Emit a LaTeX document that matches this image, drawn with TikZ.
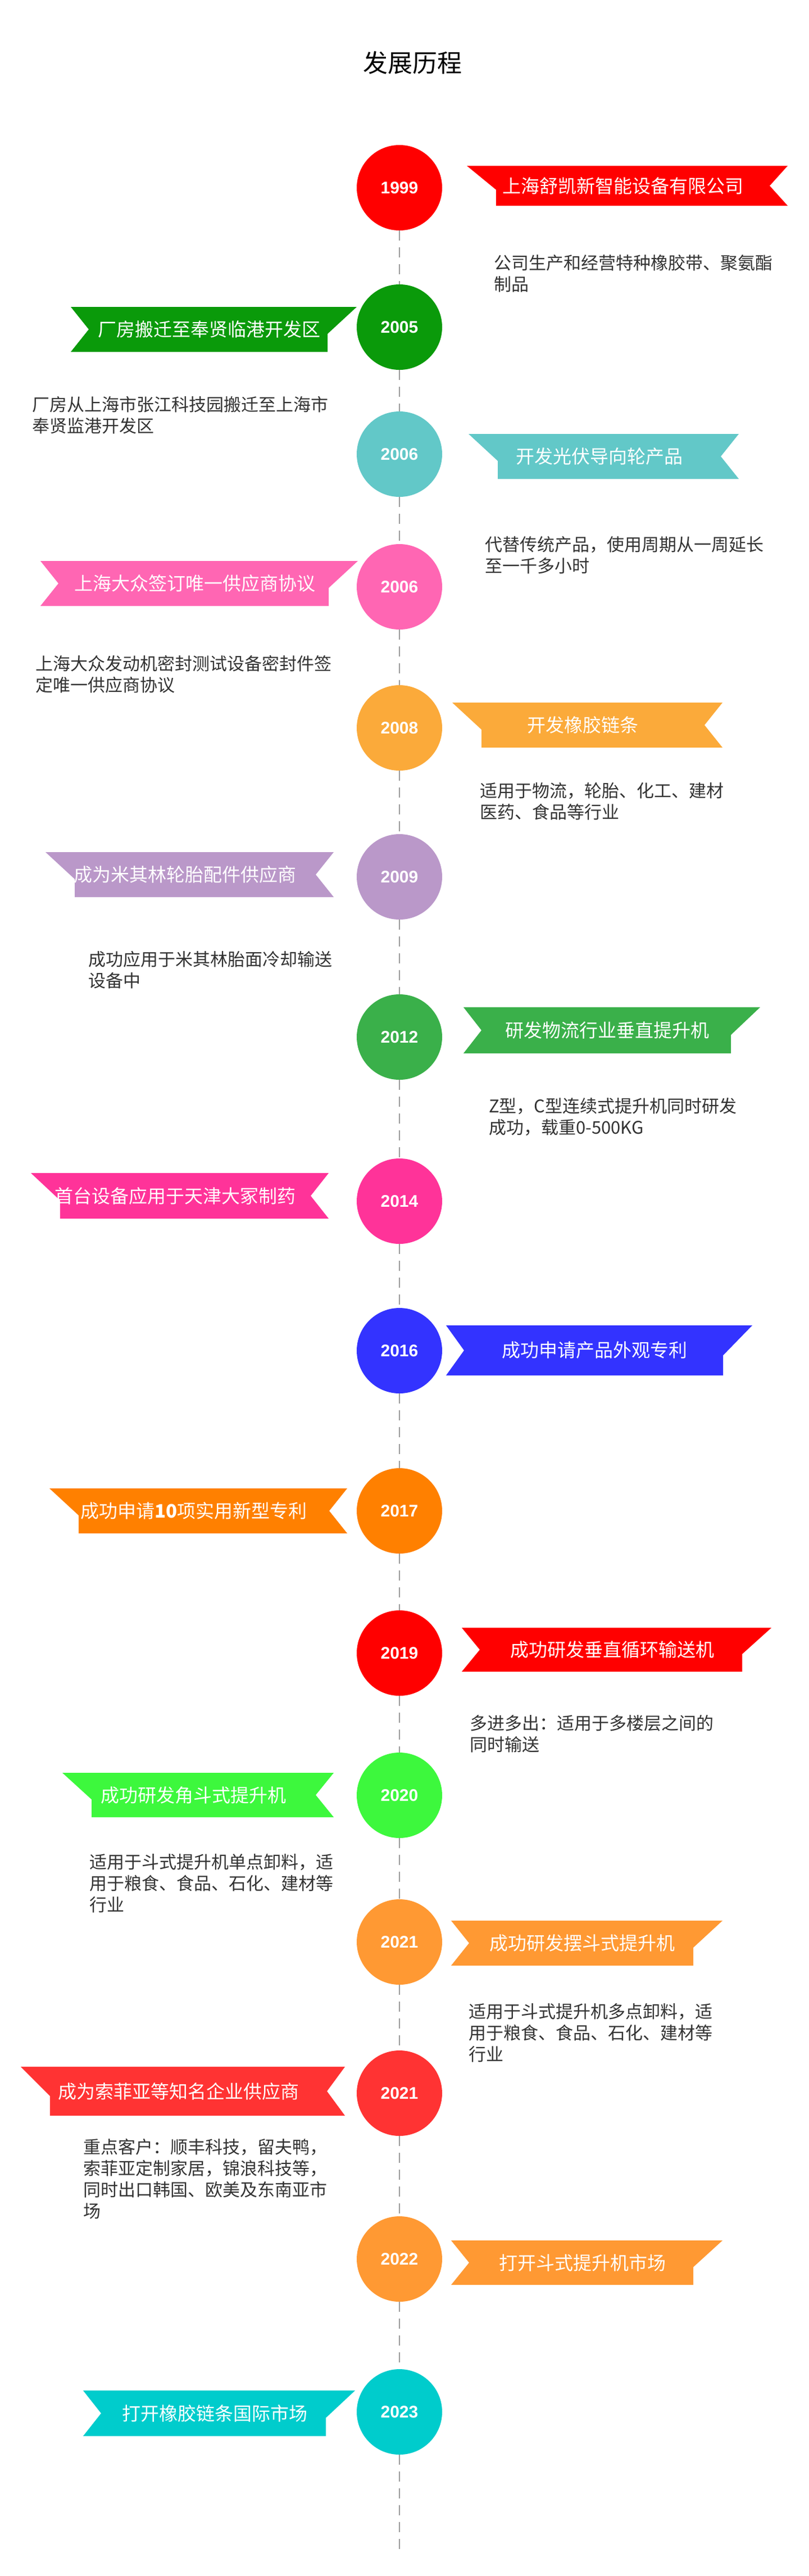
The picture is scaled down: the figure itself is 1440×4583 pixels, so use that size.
\documentclass[tikz,border=0pt]{standalone}
\usepackage{fontspec}
\setmainfont{Noto Sans CJK SC}
\newfontfamily\yearfont{Liberation Sans}
\usetikzlibrary{calc}
\definecolor{k1999}{HTML}{FF0000}
\definecolor{k2005}{HTML}{0A9A0A}
\definecolor{k2006a}{HTML}{62C8C8}
\definecolor{k2006b}{HTML}{FF66B3}
\definecolor{k2008}{HTML}{FBAA3A}
\definecolor{k2009}{HTML}{BA98C9}
\definecolor{k2012}{HTML}{3AB04A}
\definecolor{k2014}{HTML}{FF3399}
\definecolor{k2016}{HTML}{3333FF}
\definecolor{k2017}{HTML}{FF8000}
\definecolor{k2019}{HTML}{FF0000}
\definecolor{k2020}{HTML}{3DF83D}
\definecolor{k2021a}{HTML}{FF9933}
\definecolor{k2021b}{HTML}{FF3333}
\definecolor{k2022}{HTML}{FF9933}
\definecolor{k2023}{HTML}{00CCCC}
\definecolor{desc}{HTML}{333333}
\definecolor{dashc}{HTML}{999999}
\tikzset{
  yearc/.style={circle,minimum size=152pt,inner sep=0pt,text=white,font=\yearfont\bfseries\fontsize{30}{30}\selectfont},
  bantext/.style={text=white,inner sep=0pt,font=\fontsize{33}{33}\selectfont},
  desctext/.style={text=desc,inner sep=0pt,align=left,anchor=north west,font=\fontsize{31}{38}\selectfont},
  dashline/.style={draw=dashc,line width=2pt,dash pattern=on 18pt off 12pt},
  titletext/.style={inner sep=0pt,font=\fontsize{44}{44}\selectfont}
}
% \ban{xl}{xr}{yt}{yb}{leftkind}{rightkind}{color}{name}{text}
\newcommand\ban[9]{%
  \pgfmathsetmacro\hh{#4-#3}%
  \pgfmathsetmacro\ym{(#3+#4)/2}%
  \pgfmathsetmacro\yf{#3+0.6*\hh}%
  \def\pth{(#1,#3) -- (#2,#3)}%
  \if#6n\edef\pth{\pth -- (#2-32,\ym) -- (#2,#4)}\else\edef\pth{\pth -- (#2-52,\yf) -- (#2-52,#4)}\fi
  \if#5n\edef\pth{\pth -- (#1,#4) -- (#1+32,\ym) -- cycle}\else\edef\pth{\pth -- (#1+52,#4) -- (#1+52,\yf) -- cycle}\fi
  \fill[#7] \pth;
  \node[bantext] (#8) at ({(#1+#2)/2-8},\ym) {#9};
}
\begin{document}
\begin{tikzpicture}[x=1pt,y=-1pt]
\useasboundingbox (0,0) rectangle (1440,4583);
\fill[white] (0,0) rectangle (1440,4583);
\node[titletext] (title) at (734,112) {发展历程};
% circles
\node[yearc,fill=k1999] (c1) at (711,334) {1999};
\node[yearc,fill=k2005] (c2) at (711,582) {2005};
\node[yearc,fill=k2006a] (c3) at (711,808) {2006};
\node[yearc,fill=k2006b] (c4) at (711,1044) {2006};
\node[yearc,fill=k2008] (c5) at (711,1295) {2008};
\node[yearc,fill=k2009] (c6) at (711,1560) {2009};
\node[yearc,fill=k2012] (c7) at (711,1845) {2012};
\node[yearc,fill=k2014] (c8) at (711,2137) {2014};
\node[yearc,fill=k2016] (c9) at (711,2403) {2016};
\node[yearc,fill=k2017] (c10) at (711,2688) {2017};
\node[yearc,fill=k2019] (c11) at (711,2941) {2019};
\node[yearc,fill=k2020] (c12) at (711,3194) {2020};
\node[yearc,fill=k2021a] (c13) at (711,3455) {2021};
\node[yearc,fill=k2021b] (c14) at (711,3724) {2021};
\node[yearc,fill=k2022] (c15) at (711,4019) {2022};
\node[yearc,fill=k2023] (c16) at (711,4291) {2023};
\coordinate (lineend) at (711,4541);
\foreach \a/\b in {c1/c2,c2/c3,c3/c4,c4/c5,c5/c6,c6/c7,c7/c8,c8/c9,c9/c10,c10/c11,c11/c12,c12/c13,c13/c14,c14/c15,c15/c16}
  \draw[dashline] (\a.south) -- (\b.north);
\draw[dashline] (c16.south) -- (lineend);
% banners
\ban{831}{1402}{295}{366}{f}{n}{k1999}{b1}{上海舒凯新智能设备有限公司}
\ban{126}{635}{546}{626}{n}{f}{k2005}{b2}{厂房搬迁至奉贤临港开发区}
\ban{834}{1315}{772}{852}{f}{n}{k2006a}{b3}{开发光伏导向轮产品}
\ban{72}{637}{998}{1078}{n}{f}{k2006b}{b4}{上海大众签订唯一供应商协议}
\ban{805}{1286}{1250}{1330}{f}{n}{k2008}{b5}{开发橡胶链条}
\ban{81}{594}{1516}{1596}{f}{n}{k2009}{b6}{成为米其林轮胎配件供应商}
\ban{825}{1353}{1792}{1874}{n}{f}{k2012}{b7}{研发物流行业垂直提升机}
\ban{55}{585}{2087}{2168}{f}{n}{k2014}{b8}{首台设备应用于天津大冢制药}
\ban{794}{1339}{2358}{2447}{n}{f}{k2016}{b9}{成功申请产品外观专利}
\ban{88}{618}{2648}{2728}{f}{n}{k2017}{b10}{成功申请\textbf{10}项实用新型专利}
\ban{822}{1373}{2896}{2974}{n}{f}{k2019}{b11}{成功研发垂直循环输送机}
\ban{111}{594}{3154}{3233}{f}{n}{k2020}{b12}{成功研发角斗式提升机}
\ban{803}{1286}{3417}{3497}{n}{f}{k2021a}{b13}{成功研发摆斗式提升机}
\ban{37}{614}{3677}{3764}{f}{n}{k2021b}{b14}{成为索菲亚等知名企业供应商}
\ban{803}{1286}{3986}{4065}{n}{f}{k2022}{b15}{打开斗式提升机市场}
\ban{148}{632}{4253}{4334}{n}{f}{k2023}{b16}{打开橡胶链条国际市场}
% descriptions
\node[desctext] (d1) at (879,453) {公司生产和经营特种橡胶带、聚氨酯\\制品};
\node[desctext] (d2) at (57,705) {厂房从上海市张江科技园搬迁至上海市\\奉贤监港开发区};
\node[desctext] (d3) at (863,954) {代替传统产品，使用周期从一周延长\\至一千多小时};
\node[desctext] (d4) at (63,1166) {上海大众发动机密封测试设备密封件签\\定唯一供应商协议};
\node[desctext] (d5) at (854,1392) {适用于物流，轮胎、化工、建材\\医药、食品等行业};
\node[desctext] (d6) at (157,1692) {成功应用于米其林胎面冷却输送\\设备中};
\node[desctext] (d7) at (870,1953) {Z型，C型连续式提升机同时研发\\成功，载重0-500KG};
\node[desctext] (d11) at (836,3051) {多进多出：适用于多楼层之间的\\同时输送};
\node[desctext] (d12) at (159,3298) {适用于斗式提升机单点卸料，适\\用于粮食、食品、石化、建材等\\行业};
\node[desctext] (d13) at (834,3564) {适用于斗式提升机多点卸料，适\\用于粮食、食品、石化、建材等\\行业};
\node[desctext] (d14) at (148,3805) {重点客户：顺丰科技，留夫鸭，\\索菲亚定制家居，锦浪科技等，\\同时出口韩国、欧美及东南亚市\\场};
\end{tikzpicture}
\end{document}
